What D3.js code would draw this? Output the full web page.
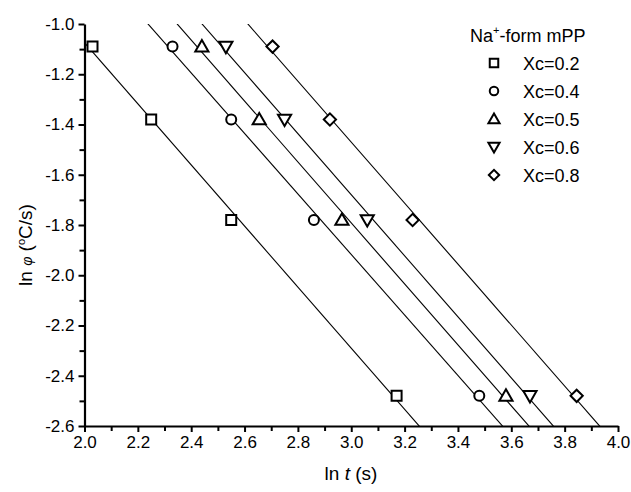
<!DOCTYPE html>
<html>
<head>
  <meta charset="UTF-8">
  <style>
    body { margin: 0; background: #fff; }
    svg { display: block; font-family: "Liberation Sans", Arial, sans-serif; }
  </style>
</head>
<body>
<svg></svg>
<script src="https://d3js.org/d3.v7.min.js"></script>
<script>

let width = 631, height = 492;
let svg = d3.select("svg").attr("width", width).attr("height", height);

// data
let seriesNames = ["Xc=0.2", "Xc=0.4", "Xc=0.5", "Xc=0.6", "Xc=0.8"];
let lnPhi = [-1.09, -1.38, -1.78, -2.48];
let lnT_02 = [2.03, 2.25, 2.55, 3.17];
let lnT_04 = [2.33, 2.55, 2.86, 3.48];
let lnT_05 = [2.44, 2.655, 2.965, 3.58];
let lnT_06 = [2.53, 2.75, 3.06, 3.67];
let lnT_08 = [2.705, 2.92, 3.23, 3.845];
let xTicks = [2.0, 2.2, 2.4, 2.6, 2.8, 3.0, 3.2, 3.4, 3.6, 3.8, 4.0];
let yTicks = [-1.0, -1.2, -1.4, -1.6, -1.8, -2.0, -2.2, -2.4, -2.6];

let allT = [lnT_02, lnT_04, lnT_05, lnT_06, lnT_08];
let shapes = ["square", "circle", "up", "down", "diamond"];

let mLeft = 84.5, mRight = 618, mTop = 24, mBottom = 426;

let x = d3.scaleLinear().domain([2.0, 4.0]).range([mLeft, mRight]);
let y = d3.scaleLinear().domain([-2.6, -1.0]).range([mBottom, mTop]);

svg.append("defs").append("clipPath").attr("id", "plotclip")
  .append("rect")
  .attr("x", x(2.0)).attr("y", y(-1.0))
  .attr("width", x(4.0) - x(2.0)).attr("height", y(-2.6) - y(-1.0));

// least squares line through each series
function fit(xs, ys) {
  let mx = d3.mean(xs), my = d3.mean(ys);
  let sxy = d3.sum(xs, (v, i) => (v - mx) * (ys[i] - my));
  let sxx = d3.sum(xs, v => (v - mx) * (v - mx));
  let b = sxy / sxx;
  return { b: b, a: my - b * mx };
}

let lines = svg.append("g").attr("clip-path", "url(#plotclip)");
allT.forEach(ts => {
  let f = fit(ts, lnPhi);
  lines.append("line")
    .attr("x1", x(1.5)).attr("y1", y(f.a + f.b * 1.5))
    .attr("x2", x(4.5)).attr("y2", y(f.a + f.b * 4.5))
    .attr("stroke", "#000").attr("stroke-width", 1.1);
});

// markers
function marker(g, shape, s) {
  let p;
  if (shape == "square") {
    p = g.append("path").attr("d", d3.symbol(d3.symbolSquare, s * s)());
  } else if (shape == "circle") {
    p = g.append("path").attr("d", d3.symbol(d3.symbolCircle, Math.PI * s * s / 4)());
  } else if (shape == "up") {
    p = g.append("path").attr("d", d3.symbol(d3.symbolTriangle, s * s * 0.75)()).attr("transform", "translate(0,1)");
  } else if (shape == "down") {
    p = g.append("path").attr("d", d3.symbol(d3.symbolTriangle, s * s * 0.75)()).attr("transform", "translate(0,-1) rotate(180)");
  } else {
    p = g.append("path").attr("d", d3.symbol(d3.symbolSquare, s * s * 0.75)()).attr("transform", "rotate(45)");
  }
  p.attr("fill", "#fff").attr("stroke", "#000").attr("stroke-width", 2);
}

allT.forEach((ts, k) => {
  ts.forEach((t, i) => {
    let g = svg.append("g").attr("transform", "translate(" + x(t) + "," + y(lnPhi[i]) + ")");
    marker(g, shapes[k], 10);
  });
});

// axes
let xMinor = d3.range(2.1, 4.0, 0.2);
let yMinor = d3.range(-2.5, -1.0, 0.2);

let xAxis = svg.append("g").attr("transform", "translate(0," + mBottom + ")")
  .call(d3.axisBottom(x).tickValues(xTicks).tickFormat(d3.format(".1f")).tickSize(6).tickPadding(4).tickSizeOuter(0));
svg.append("g").attr("transform", "translate(0," + mBottom + ")")
  .call(d3.axisBottom(x).tickValues(xMinor).tickFormat("").tickSize(5).tickSizeOuter(0))
  .select(".domain").remove();

let yAxis = svg.append("g").attr("transform", "translate(" + mLeft + ",0)")
  .call(d3.axisLeft(y).tickValues(yTicks).tickFormat(d3.format(".1f")).tickSize(6).tickPadding(4).tickSizeOuter(0));
svg.append("g").attr("transform", "translate(" + mLeft + ",0)")
  .call(d3.axisLeft(y).tickValues(yMinor).tickFormat("").tickSize(5).tickSizeOuter(0))
  .select(".domain").remove();

svg.selectAll(".domain").attr("stroke-width", 2.2).attr("stroke", "#000");
svg.selectAll(".tick line").attr("stroke-width", 2).attr("stroke", "#000");
svg.selectAll(".tick text").style("font-size", "17px").attr("fill", "#000")
  .style("font-family", "'Liberation Sans', Arial, sans-serif");
yAxis.selectAll(".tick text").text(d => d.toFixed(1));

// axis titles
let xl = svg.append("text").attr("x", 351).attr("y", 480).attr("text-anchor", "middle").style("font-size", "19px");
xl.append("tspan").text("ln ");
xl.append("tspan").style("font-style", "italic").text("t");
xl.append("tspan").text(" (s)");

let yl = svg.append("text").attr("transform", "translate(32,245) rotate(-90)").attr("text-anchor", "middle").style("font-size", "19px");
yl.append("tspan").text("ln ");
yl.append("tspan").style("font-style", "italic").style("font-size", "14px").text("\u03c6");
yl.append("tspan").text(" (");
yl.append("tspan").style("font-size", "11px").attr("dy", -7).text("o");
yl.append("tspan").attr("dy", 7).text("C/s)");

// legend
let lg = svg.append("g");
let lt = lg.append("text").attr("x", 470).attr("y", 42).style("font-size", "18px");
lt.append("tspan").text("Na");
lt.append("tspan").style("font-size", "11px").attr("dy", -8).text("+");
lt.append("tspan").attr("dy", 8).text("-form mPP");

seriesNames.forEach((name, k) => {
  let cy = 63 + k * 28;
  let g = lg.append("g").attr("transform", "translate(494," + cy + ")");
  marker(g, shapes[k], 8.5);
  lg.append("text").attr("x", 523).attr("y", cy + 6.5).style("font-size", "18px").text(name);
});

</script>
</body>
</html>
